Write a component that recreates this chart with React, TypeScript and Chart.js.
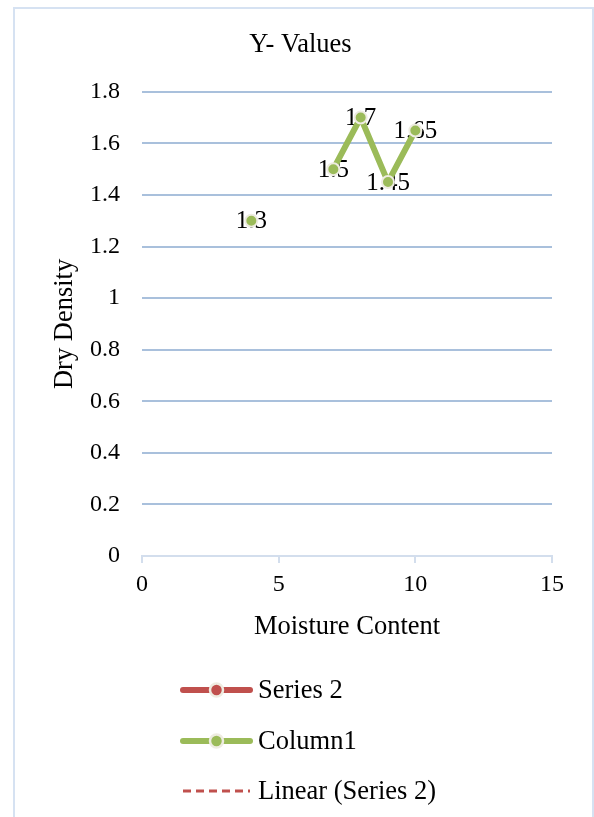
import React, { useEffect, useRef } from "react";
import { Chart, registerables } from "chart.js";

Chart.register(...registerables);

// Chart text
const chartTitle = "Y- Values";
const xAxisTitle = "Moisture Content";
const yAxisTitle = "Dry Density";

// Column1: moisture content vs dry density (null leaves a gap in the line)
const column1Moisture = [4, 6, 7, 8, 9, 10];
const column1Density: (number | null)[] = [1.3, null, 1.5, 1.7, 1.45, 1.65];

// Series 2 has no plotted values; it only appears in the legend with its trendline
const series2Moisture: number[] = [];
const series2Density: number[] = [];

// Axis ranges
const xMin = 0;
const xMax = 15;
const xStep = 5;
const yMin = 0;
const yMax = 1.8;
const yStep = 0.2;

const FONT = "'Liberation Serif', 'Times New Roman', serif";
const GREEN = "#9bbb59";
const RED = "#c0504d";
const MARKER_EDGE = "#eeece1";
const GRID = "#a9c0dc";
const AXIS = "#d3deed";
const FRAME = "#d6e2f2";

const W = 594;
const H = 817;

const toPoints = (xs: number[], ys: (number | null)[]) =>
  xs.map((x, i) => ({ x, y: ys[i] }));

// White background plus the light frame around the chart
const framePlugin = {
  id: "frame",
  beforeDraw(chart: any) {
    const { ctx } = chart;
    ctx.save();
    ctx.fillStyle = "#ffffff";
    ctx.fillRect(0, 0, chart.width, chart.height);
    ctx.strokeStyle = FRAME;
    ctx.lineWidth = 2;
    ctx.strokeRect(14, 8, 579, chart.height + 20);
    ctx.restore();
  },
};

// Value labels centred on each Column1 marker
const valueLabelPlugin = {
  id: "valueLabels",
  beforeDatasetsDraw(chart: any) {
    const { ctx } = chart;
    chart.data.datasets.forEach((ds: any, di: number) => {
      if (!ds.showValues) return;
      const meta = chart.getDatasetMeta(di);
      ctx.save();
      ctx.font = `25px ${FONT}`;
      ctx.fillStyle = "#000000";
      ctx.textAlign = "center";
      ctx.textBaseline = "middle";
      meta.data.forEach((el: any, i: number) => {
        const raw = ds.data[i];
        if (!raw || raw.y === null || raw.y === undefined) return;
        ctx.fillText(String(raw.y), el.x, el.y + 1);
      });
      ctx.restore();
    });
  },
};

// Vertical legend list beneath the axis title
const listLegendPlugin = {
  id: "listLegend",
  afterDraw(chart: any) {
    const { ctx } = chart;
    const rows = [690, 741, 791];
    const x0 = 180;
    const x1 = 253;
    chart.data.datasets.forEach((ds: any, i: number) => {
      const y = rows[i];
      ctx.save();
      ctx.strokeStyle = ds.borderColor;
      if (ds.borderDash && ds.borderDash.length) {
        ctx.lineWidth = 3;
        ctx.setLineDash([8, 5]);
        ctx.lineCap = "butt";
      } else {
        ctx.lineWidth = 6;
        ctx.lineCap = "round";
      }
      ctx.beginPath();
      ctx.moveTo(x0 + 3, y);
      ctx.lineTo(x1 - 3, y);
      ctx.stroke();
      ctx.setLineDash([]);
      if (ds.pointRadius > 0) {
        ctx.beginPath();
        ctx.arc((x0 + x1) / 2, y, 6.5, 0, Math.PI * 2);
        ctx.fillStyle = ds.pointBackgroundColor;
        ctx.fill();
        ctx.lineWidth = 2.5;
        ctx.strokeStyle = MARKER_EDGE;
        ctx.stroke();
      }
      ctx.font = `26.5px ${FONT}`;
      ctx.fillStyle = "#000000";
      ctx.textAlign = "left";
      ctx.textBaseline = "middle";
      ctx.fillText(ds.label, 258, y + 1);
      ctx.restore();
    });
  },
};

export default function App() {
  const canvasRef = useRef<HTMLCanvasElement | null>(null);

  useEffect(() => {
    const canvas = canvasRef.current;
    if (!canvas) return;
    const chart = new Chart(canvas, {
      type: "line",
      data: {
        datasets: [
          {
            label: "Series 2",
            data: toPoints(series2Moisture, series2Density),
            borderColor: RED,
            backgroundColor: RED,
            pointBackgroundColor: RED,
            pointRadius: 6,
            borderWidth: 6,
          } as any,
          {
            label: "Column1",
            data: toPoints(column1Moisture, column1Density),
            borderColor: GREEN,
            backgroundColor: GREEN,
            pointBackgroundColor: GREEN,
            pointBorderColor: MARKER_EDGE,
            pointBorderWidth: 2,
            pointRadius: 6,
            borderWidth: 6,
            spanGaps: false,
            showValues: true,
          } as any,
          {
            label: "Linear (Series 2)",
            data: [],
            borderColor: RED,
            borderDash: [8, 5],
            borderWidth: 3,
            pointRadius: 0,
          } as any,
        ],
      },
      options: {
        animation: false,
        responsive: false,
        devicePixelRatio: 1,
        layout: { padding: { left: 49, right: 42, top: 0, bottom: 171 } },
        plugins: {
          legend: { display: false },
          tooltip: { enabled: false },
          title: {
            display: true,
            text: chartTitle,
            color: "#000000",
            font: { family: FONT, size: 26.5, weight: "normal" },
            padding: { top: 29, bottom: 31 },
          },
        },
        scales: {
          x: {
            type: "linear",
            min: xMin,
            max: xMax,
            ticks: {
              stepSize: xStep,
              color: "#000000",
              font: { family: FONT, size: 24 },
              padding: 7,
              maxRotation: 0,
            },
            grid: {
              drawOnChartArea: false,
              drawTicks: true,
              tickLength: 7,
              color: AXIS,
              lineWidth: 2,
            },
            border: { display: true, color: AXIS, width: 2 },
            title: {
              display: true,
              text: xAxisTitle,
              color: "#000000",
              font: { family: FONT, size: 26.5 },
              padding: { top: 0, bottom: 3 },
            },
            afterFit(scale: any) {
              scale.height = 90;
              scale.paddingLeft = 0;
              scale.paddingRight = 0;
            },
          },
          y: {
            type: "linear",
            min: yMin,
            max: yMax,
            ticks: {
              stepSize: yStep,
              color: "#000000",
              font: { family: FONT, size: 24 },
              padding: 22,
              callback: (v: any) => String(Number(Number(v).toFixed(1))),
            },
            grid: {
              drawTicks: false,
              lineWidth: 2,
              color: (c: any) => (c.tick && c.tick.value === 0 ? "rgba(0,0,0,0)" : GRID),
            },
            border: { display: false },
            title: {
              display: true,
              text: yAxisTitle,
              color: "#000000",
              font: { family: FONT, size: 26.5 },
              padding: { top: 0, bottom: 0 },
            },
            afterFit(scale: any) {
              scale.width = 93;
              scale.paddingTop = 0;
              scale.paddingBottom = 0;
            },
          },
        },
      },
      plugins: [framePlugin, valueLabelPlugin, listLegendPlugin],
    });
    return () => chart.destroy();
  }, []);

  return (
    <canvas
      ref={canvasRef}
      width={W}
      height={H}
      style={{ position: "fixed", left: 0, top: 0, width: W, height: H, display: "block" }}
    />
  );
}
